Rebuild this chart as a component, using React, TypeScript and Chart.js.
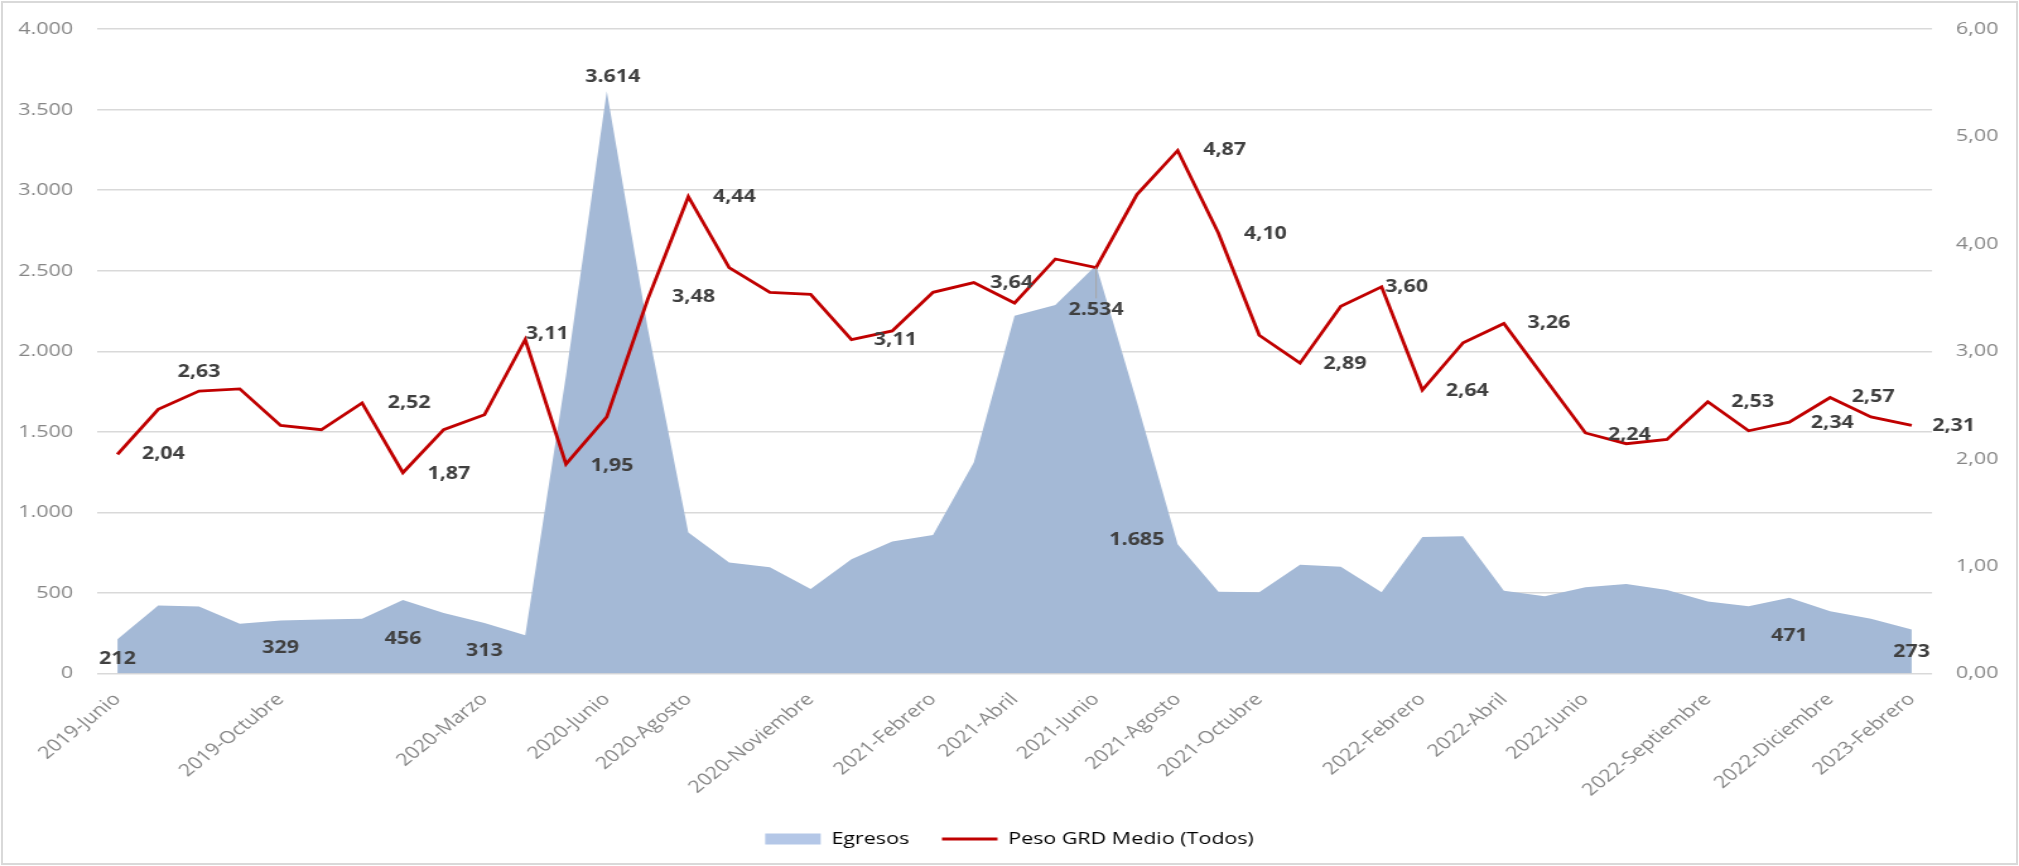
import React, { useEffect, useRef } from "react";
import { Chart, registerables } from "chart.js";

Chart.register(...registerables);

// Monthly categories
const months = [
  "2019-Junio", "2019-Julio", "2019-Agosto", "2019-Septiembre", "2019-Octubre", "2019-Noviembre", "2019-Diciembre",
  "2020-Enero", "2020-Febrero", "2020-Marzo", "2020-Abril", "2020-Mayo", "2020-Junio",
  "2020-Julio", "2020-Agosto", "2020-Septiembre", "2020-Octubre", "2020-Noviembre", "2020-Diciembre",
  "2021-Enero", "2021-Febrero", "2021-Marzo", "2021-Abril", "2021-Mayo", "2021-Junio",
  "2021-Julio", "2021-Agosto", "2021-Septiembre", "2021-Octubre", "2021-Noviembre", "2021-Diciembre",
  "2022-Enero", "2022-Febrero", "2022-Marzo", "2022-Abril", "2022-Mayo", "2022-Junio",
  "2022-Julio", "2022-Agosto", "2022-Septiembre", "2022-Octubre", "2022-Noviembre", "2022-Diciembre",
  "2023-Enero", "2023-Febrero",
];

// Month names printed on the horizontal axis
const axisMonths = [
  "2019-Junio", "2019-Octubre", "2020-Marzo", "2020-Junio", "2020-Agosto", "2020-Noviembre",
  "2021-Febrero", "2021-Abril", "2021-Junio", "2021-Agosto", "2021-Octubre",
  "2022-Febrero", "2022-Abril", "2022-Junio", "2022-Septiembre", "2022-Diciembre", "2023-Febrero",
];

// Egresos (left axis)
const egresos = [
  212, 422, 416, 309, 329, 335, 340,
  456, 375, 313, 237, 1850, 3614, 2150, 875, 689, 659, 525, 710,
  819, 860, 1310, 2221, 2287, 2534, 1685, 803, 508, 504, 675, 663,
  504, 848, 852, 514, 480, 535, 556, 519, 447, 418, 471, 387,
  340, 273,
];

// Peso GRD Medio (Todos) (right axis)
const pesoGrd = [
  2.04, 2.46, 2.63, 2.65, 2.31, 2.27, 2.52,
  1.87, 2.27, 2.41, 3.11, 1.95, 2.39, 3.48, 4.44, 3.78, 3.55, 3.53, 3.11,
  3.19, 3.55, 3.64, 3.45, 3.86, 3.78, 4.46, 4.87, 4.10, 3.15, 2.89, 3.42,
  3.60, 2.64, 3.08, 3.26, 2.75, 2.24, 2.14, 2.18, 2.53, 2.26, 2.34, 2.57,
  2.39, 2.31,
];

// Months whose value is printed, with the label offset from its point [dx, dy] in screen px
const egresosLabelOffsets: Record<string, [number, number]> = {
  "2019-Junio": [0, 20],
  "2019-Octubre": [0, 28],
  "2020-Enero": [0, 39],
  "2020-Marzo": [0, 28],
  "2020-Junio": [6, -14],
  "2021-Junio": [0, 45],
  "2021-Julio": [0, 138],
  "2022-Noviembre": [0, 39],
  "2023-Febrero": [0, 23],
};

const pesoLabelOffsets: Record<string, [number, number]> = {
  "2019-Junio": [46, 0],
  "2019-Agosto": [0, -19],
  "2019-Diciembre": [47, 0],
  "2020-Enero": [46, 1],
  "2020-Abril": [22, -5],
  "2020-Mayo": [46, 2],
  "2020-Julio": [46, -3],
  "2020-Agosto": [46, 0],
  "2020-Diciembre": [44, 1],
  "2021-Marzo": [38, 1],
  "2021-Agosto": [47, 0],
  "2021-Septiembre": [47, 1],
  "2021-Noviembre": [45, 1],
  "2022-Enero": [25, 0],
  "2022-Febrero": [45, 1],
  "2022-Abril": [45, 0],
  "2022-Junio": [44, 2],
  "2022-Septiembre": [45, 0],
  "2022-Noviembre": [43, 1],
  "2022-Diciembre": [43, 0],
  "2023-Febrero": [42, 1],
};

// The drawing is made on a narrower canvas and widened by CSS
const VIEW_W = 2019;
const VIEW_H = 866;
const CANVAS_W = 1600;
const STRETCH = VIEW_W / CANVAS_W;

const FONT = "'Open Sans', 'Noto Sans', sans-serif";
const AREA_COLOR = "#a4b9d6";
const LINE_COLOR = "#c00000";

const fmtThousands = (v: number) => {
  const n = Math.round(v);
  if (n < 1000) return String(n);
  return `${Math.floor(n / 1000)}.${String(n % 1000).padStart(3, "0")}`;
};
const fmtDecimal = (v: number) => v.toFixed(2).replace(".", ",");

const valueLabels = {
  id: "valueLabels",
  afterDatasetsDraw(chart: any) {
    const ctx = chart.ctx as CanvasRenderingContext2D;
    ctx.save();
    ctx.font = `bold 17px ${FONT}`;
    ctx.fillStyle = "#404040";
    ctx.textAlign = "center";
    ctx.textBaseline = "middle";

    const lineMeta = chart.getDatasetMeta(0);
    const areaMeta = chart.getDatasetMeta(1);

    months.forEach((m, i) => {
      const eo = egresosLabelOffsets[m];
      if (eo) {
        const pt = areaMeta.data[i];
        const x = pt.x + eo[0] / STRETCH;
        const y = pt.y + eo[1];
        if (m === "2021-Junio") {
          ctx.save();
          ctx.strokeStyle = "#a6a6a6";
          ctx.lineWidth = 1;
          ctx.beginPath();
          ctx.moveTo(pt.x, pt.y + 2);
          ctx.lineTo(pt.x, y - 12);
          ctx.stroke();
          ctx.restore();
        }
        ctx.fillText(fmtThousands(egresos[i]), x, y);
      }
      const po = pesoLabelOffsets[m];
      if (po) {
        const pt = lineMeta.data[i];
        ctx.fillText(fmtDecimal(pesoGrd[i]), pt.x + po[0] / STRETCH, pt.y + po[1]);
      }
    });
    ctx.restore();
  },
};

export default function App() {
  const canvasRef = useRef<HTMLCanvasElement>(null);

  useEffect(() => {
    document.body.style.margin = "0";
    const canvas = canvasRef.current;
    if (!canvas) return;

    const chart = new Chart(canvas, {
      type: "line",
      data: {
        labels: months,
        datasets: [
          {
            label: "Peso GRD Medio (Todos)",
            data: pesoGrd,
            yAxisID: "y1",
            borderColor: LINE_COLOR,
            backgroundColor: LINE_COLOR,
            borderWidth: 2.8,
            pointRadius: 0,
            tension: 0,
            fill: false,
            order: 0,
          },
          {
            label: "Egresos",
            data: egresos,
            yAxisID: "y",
            borderColor: "rgba(0,0,0,0)",
            backgroundColor: AREA_COLOR,
            borderWidth: 0,
            pointRadius: 0,
            tension: 0,
            fill: "origin",
            order: 1,
          },
        ],
      },
      options: {
        animation: false,
        responsive: false,
        maintainAspectRatio: false,
        devicePixelRatio: 1,
        layout: { padding: { top: 24.5, left: 0, right: 0, bottom: 8.5 } },
        plugins: {
          tooltip: { enabled: false },
          legend: {
            position: "bottom",
            labels: {
              usePointStyle: true,
              pointStyleWidth: 44,
              boxHeight: 11,
              padding: 26,
              color: "#808080",
              font: { family: FONT, size: 17 },
              generateLabels: () => [
                {
                  text: "Egresos",
                  fillStyle: "#b4c7e7",
                  strokeStyle: "#b4c7e7",
                  lineWidth: 0,
                  pointStyle: "rect",
                  hidden: false,
                  datasetIndex: 1,
                },
                {
                  text: "Peso GRD Medio (Todos)",
                  fillStyle: LINE_COLOR,
                  strokeStyle: LINE_COLOR,
                  lineWidth: 3,
                  pointStyle: "line",
                  hidden: false,
                  datasetIndex: 0,
                },
              ],
            },
          },
        },
        scales: {
          x: {
            offset: true,
            grid: { display: false, drawTicks: false },
            border: { display: false },
            ticks: {
              autoSkip: false,
              minRotation: 45,
              maxRotation: 45,
              padding: 16,
              color: "#868686",
              font: { family: FONT, size: 17 },
              callback: (_v: any, i: number) => (axisMonths.includes(months[i]) ? months[i] : ""),
            },
            afterFit: (s: any) => {
              s.height = 131;
            },
          },
          y: {
            position: "left",
            min: 0,
            max: 4000,
            ticks: {
              stepSize: 500,
              padding: 19,
              color: "#868686",
              font: { family: FONT, size: 17 },
              callback: (v: any) => fmtThousands(Number(v)),
            },
            grid: { color: "#d9d9d9", lineWidth: 1.6, drawTicks: false },
            border: { display: false },
            afterFit: (s: any) => {
              s.width = 76.9;
            },
          },
          y1: {
            position: "right",
            min: 0,
            max: 6,
            ticks: {
              stepSize: 1,
              padding: 19,
              color: "#868686",
              font: { family: FONT, size: 17 },
              callback: (v: any) => fmtDecimal(Number(v)),
            },
            grid: { display: false, drawTicks: false },
            border: { display: false },
            afterFit: (s: any) => {
              s.width = 68.9;
            },
          },
        },
      },
      plugins: [valueLabels],
    });

    return () => chart.destroy();
  }, []);

  return (
    <div style={{ position: "relative", width: VIEW_W, height: VIEW_H, background: "#ffffff", overflow: "hidden" }}>
      <canvas
        ref={canvasRef}
        width={CANVAS_W}
        height={VIEW_H}
        style={{ display: "block", width: `${VIEW_W}px`, height: `${VIEW_H}px` }}
      />
      <div
        style={{
          position: "absolute",
          left: 1,
          top: 1,
          width: VIEW_W - 2,
          height: VIEW_H - 2,
          border: "2px solid #d9d9d9",
          boxSizing: "border-box",
          pointerEvents: "none",
        }}
      />
    </div>
  );
}
